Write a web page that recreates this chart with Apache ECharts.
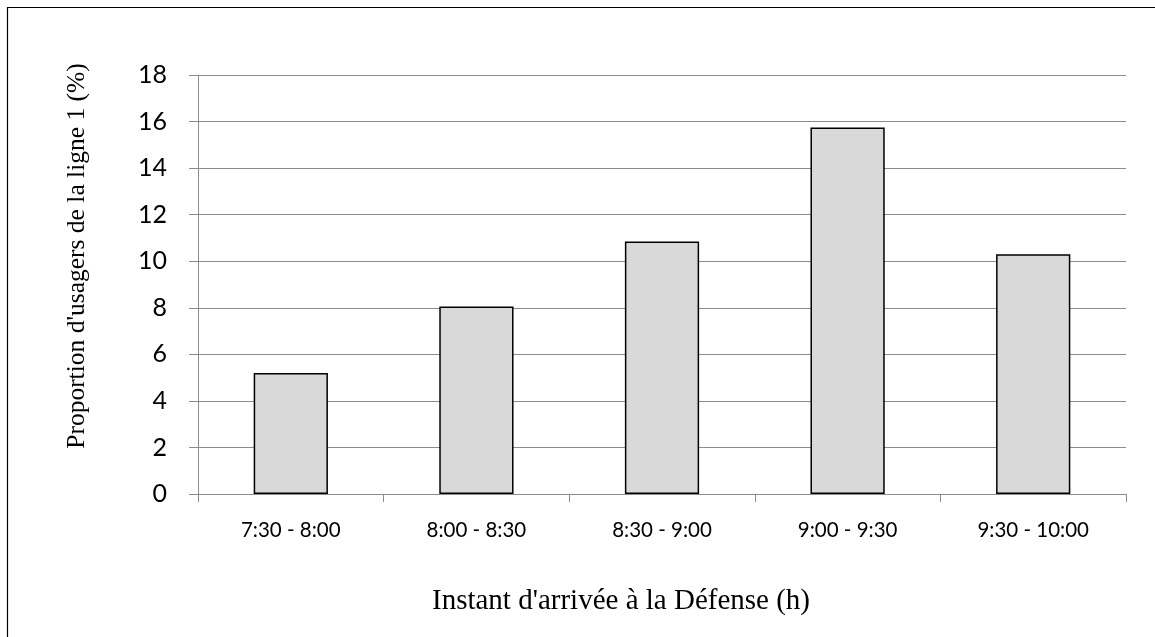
<!DOCTYPE html>
<html>
<head>
<meta charset="utf-8">
<script src="https://cdn.jsdelivr.net/npm/echarts@6/dist/echarts.min.js"></script>
<style>
html,body{margin:0;padding:0;background:#fff;}
#chart{width:1155px;height:637px;}
</style>
</head>
<body>
<div id="chart"></div>
<script>
const categories = ['7:30 - 8:00', '8:00 - 8:30', '8:30 - 9:00', '9:00 - 9:30', '9:30 - 10:00'];
const values = [5.2, 8.05, 10.85, 15.75, 10.3];
const yTitle = "Proportion d'usagers de la ligne 1 (%)";
const xTitle = "Instant d'arrivée à la Défense (h)";

const chart = echarts.init(document.getElementById('chart'), null, {renderer: 'canvas'});
chart.setOption({
  animation: false,
  backgroundColor: '#ffffff',
  grid: {left: 198, right: 29, top: 75, bottom: 143, containLabel: false},
  xAxis: {
    type: 'category',
    data: categories,
    axisLine: {lineStyle: {color: '#8c8c8c', width: 1}},
    axisTick: {show: true, length: 8, lineStyle: {color: '#8c8c8c'}},
    axisLabel: {color: '#000', fontFamily: 'Lato', fontSize: 20.5, margin: 26},
    splitLine: {show: false}
  },
  yAxis: {
    type: 'value',
    min: 0, max: 18, interval: 2,
    axisLine: {show: true, lineStyle: {color: '#8c8c8c', width: 1}},
    axisTick: {show: true, length: 9, lineStyle: {color: '#8c8c8c'}},
    axisLabel: {color: '#000', fontFamily: 'Lato', fontSize: 25, margin: 31},
    splitLine: {show: true, lineStyle: {color: '#8c8c8c', width: 1.2}}
  },
  series: [{
    type: 'bar',
    data: values,
    barCategoryGap: '60%',
    itemStyle: {color: '#d9d9d9', borderColor: '#000', borderWidth: 1.5}
  }],
  graphic: [
    {type: 'rect', shape: {x: 7.5, y: 7.5, width: 1300, height: 800}, style: {fill: 'none', stroke: '#000', lineWidth: 1.2}, silent: true},
    {type: 'text', x: 77, y: 256, rotation: Math.PI / 2,
     style: {text: yTitle, font: '25.5px "Liberation Serif"', fill: '#000', align: 'center', verticalAlign: 'middle'}},
    {type: 'text', x: 621, y: 601,
     style: {text: xTitle, font: '29px "Liberation Serif"', fill: '#000', align: 'center', verticalAlign: 'middle'}}
  ]
});
</script>
</body>
</html>
